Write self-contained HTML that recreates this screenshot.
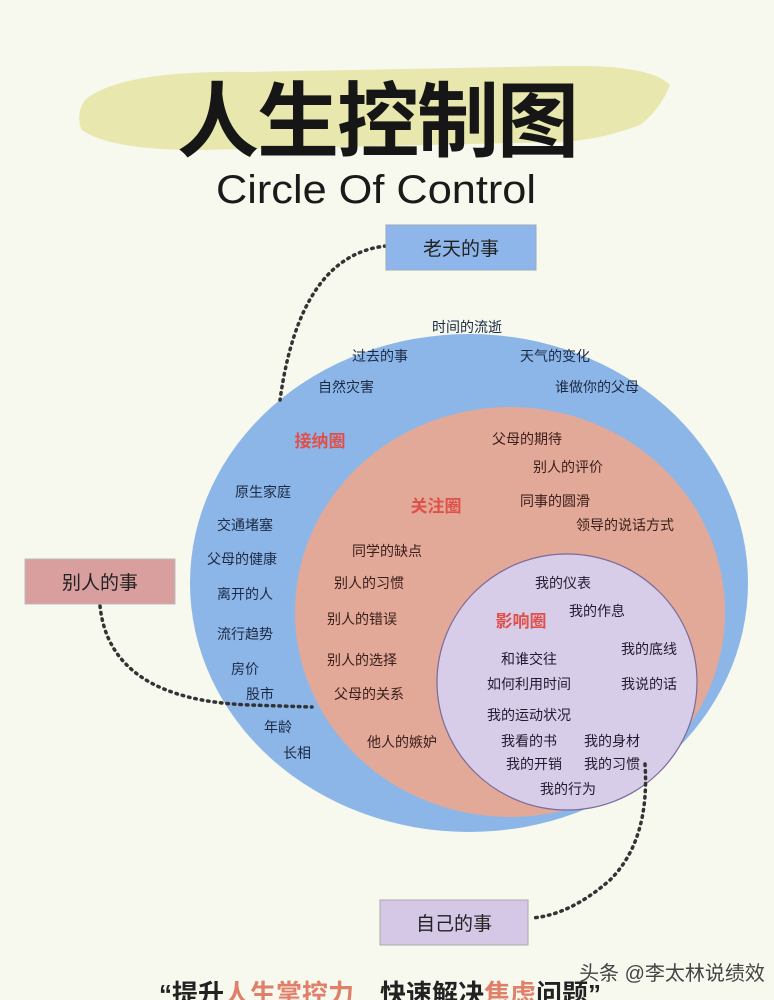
<!DOCTYPE html>
<html><head><meta charset="utf-8"><style>
html,body{margin:0;padding:0;background:#f7f8ee;}
svg{display:block}
text{font-family:"Liberation Sans","Noto Sans CJK SC",sans-serif;}
</style></head><body>
<svg width="774" height="1000" viewBox="0 0 774 1000" xmlns="http://www.w3.org/2000/svg">
<rect width="774" height="1000" fill="#f7f8ee"/>
<path d="M85,100 Q120,70 250,72 L560,66 Q650,64 670,85 Q660,110 640,125 Q600,140 560,142 L200,150 Q110,150 82,130 Q75,115 85,100 Z" fill="#e6e4a6" opacity="0.9"/>
<text x="377" y="150" font-size="82" font-weight="bold" text-anchor="middle" fill="#161616" font-family="Noto Sans CJK SC,sans-serif" letter-spacing="-2">人生控制图</text>
<text x="216" y="203" font-size="40" fill="#1a1a1a" textLength="320" lengthAdjust="spacingAndGlyphs">Circle Of Control</text>

<ellipse cx="469" cy="583" rx="279" ry="249" fill="#8db6e8"/>
<ellipse cx="510" cy="612" rx="215" ry="205" fill="#e2a898"/>
<ellipse cx="567" cy="682" rx="130" ry="128" fill="#d8cde8" stroke="#7a6a9a" stroke-width="1.2"/>

<g fill="none" stroke="#333" stroke-width="3.5" stroke-dasharray="1.5 5" stroke-linecap="round">
<path d="M386,246 Q300,255 280,400"/>
<path d="M100,606 Q110,700 250,705 L312,707"/>
<path d="M645,764 Q650,840 610,880 Q570,915 532,918"/>
</g>

<rect x="386" y="225" width="150" height="45" fill="#8fb6ea" stroke="#9ab" stroke-width="1"/>
<text x="461" y="255" font-size="19" text-anchor="middle" fill="#222">老天的事</text>
<rect x="25" y="559" width="150" height="45" fill="#d99f9f" stroke="#bbb" stroke-width="1"/>
<text x="100" y="589" font-size="19" text-anchor="middle" fill="#222">别人的事</text>
<rect x="380" y="900" width="148" height="45" fill="#d4c8e6" stroke="#aaa" stroke-width="1"/>
<text x="454" y="930" font-size="19" text-anchor="middle" fill="#222">自己的事</text>

<g font-size="14" fill="#1c2a44">
<text x="467" y="332" text-anchor="middle">时间的流逝</text>
<text x="380" y="361" text-anchor="middle">过去的事</text>
<text x="555" y="361" text-anchor="middle">天气的变化</text>
<text x="346" y="392" text-anchor="middle">自然灾害</text>
<text x="597" y="392" text-anchor="middle">谁做你的父母</text>
<text x="263" y="497" text-anchor="middle">原生家庭</text>
<text x="245" y="530" text-anchor="middle">交通堵塞</text>
<text x="242" y="564" text-anchor="middle">父母的健康</text>
<text x="245" y="599" text-anchor="middle">离开的人</text>
<text x="245" y="639" text-anchor="middle">流行趋势</text>
<text x="245" y="674" text-anchor="middle">房价</text>
<text x="260" y="699" text-anchor="middle">股市</text>
<text x="278" y="732" text-anchor="middle">年龄</text>
<text x="297" y="758" text-anchor="middle">长相</text>
</g>
<g font-size="14" fill="#3a1e1a">
<text x="527" y="444" text-anchor="middle">父母的期待</text>
<text x="568" y="472" text-anchor="middle">别人的评价</text>
<text x="555" y="506" text-anchor="middle">同事的圆滑</text>
<text x="625" y="530" text-anchor="middle">领导的说话方式</text>
<text x="387" y="556" text-anchor="middle">同学的缺点</text>
<text x="369" y="588" text-anchor="middle">别人的习惯</text>
<text x="362" y="624" text-anchor="middle">别人的错误</text>
<text x="362" y="665" text-anchor="middle">别人的选择</text>
<text x="369" y="699" text-anchor="middle">父母的关系</text>
<text x="402" y="747" text-anchor="middle">他人的嫉妒</text>
</g>
<g font-size="14" fill="#201a30">
<text x="563" y="588" text-anchor="middle">我的仪表</text>
<text x="597" y="616" text-anchor="middle">我的作息</text>
<text x="649" y="654" text-anchor="middle">我的底线</text>
<text x="529" y="664" text-anchor="middle">和谁交往</text>
<text x="529" y="689" text-anchor="middle">如何利用时间</text>
<text x="649" y="689" text-anchor="middle">我说的话</text>
<text x="529" y="720" text-anchor="middle">我的运动状况</text>
<text x="529" y="746" text-anchor="middle">我看的书</text>
<text x="612" y="746" text-anchor="middle">我的身材</text>
<text x="534" y="769" text-anchor="middle">我的开销</text>
<text x="612" y="769" text-anchor="middle">我的习惯</text>
<text x="568" y="794" text-anchor="middle">我的行为</text>
</g>
<g font-size="17" font-weight="bold" fill="#e0504a">
<text x="320" y="447" text-anchor="middle">接纳圈</text>
<text x="436" y="512" text-anchor="middle">关注圈</text>
<text x="521" y="627" text-anchor="middle">影响圈</text>
</g>
<text x="380" y="1003" font-size="26" font-weight="bold" text-anchor="middle" fill="#222">“提升<tspan fill="#e0806a">人生掌控力</tspan>　快速解决<tspan fill="#e0806a">焦虑</tspan>问题”</text>
<text x="672" y="980" font-size="20" text-anchor="middle" fill="#444">头条 @李太林说绩效</text>
</svg>
</body></html>
